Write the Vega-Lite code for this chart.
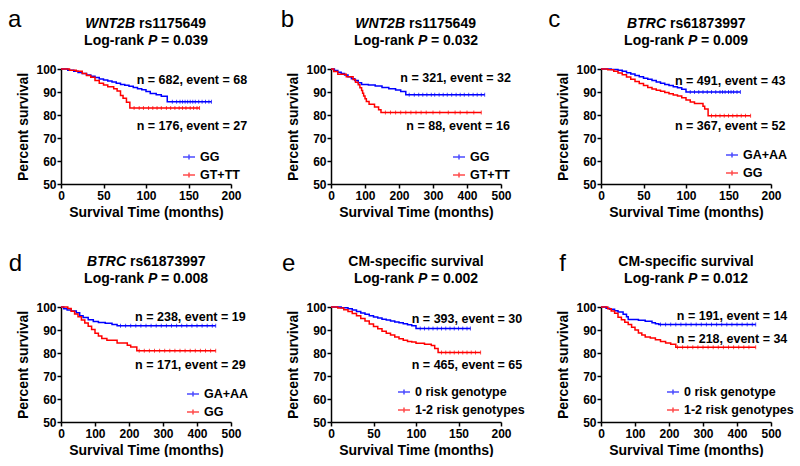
{
"$schema": "https://vega.github.io/schema/vega-lite/v6.json",
"padding": {"left": 7, "top": 7, "right": 0, "bottom": 0},
"datasets": {
"km": [
{"panel":"a","group":"GG","time":0,"survival":100},{"panel":"a","group":"GG","time":8,"survival":99.5},{"panel":"a","group":"GG","time":15,"survival":99},{"panel":"a","group":"GG","time":20,"survival":98.5},{"panel":"a","group":"GG","time":25,"survival":98},{"panel":"a","group":"GG","time":30,"survival":97.4},{"panel":"a","group":"GG","time":35,"survival":96.9},{"panel":"a","group":"GG","time":40,"survival":96.3},{"panel":"a","group":"GG","time":45,"survival":95.7},{"panel":"a","group":"GG","time":50,"survival":95.2},{"panel":"a","group":"GG","time":55,"survival":94.8},{"panel":"a","group":"GG","time":60,"survival":94.3},{"panel":"a","group":"GG","time":65,"survival":93.8},{"panel":"a","group":"GG","time":70,"survival":93.3},{"panel":"a","group":"GG","time":75,"survival":92.9},{"panel":"a","group":"GG","time":80,"survival":92.5},{"panel":"a","group":"GG","time":85,"survival":92},{"panel":"a","group":"GG","time":90,"survival":91.4},{"panel":"a","group":"GG","time":95,"survival":91},{"panel":"a","group":"GG","time":100,"survival":90.2},{"panel":"a","group":"GG","time":105,"survival":89.4},{"panel":"a","group":"GG","time":112,"survival":88.8},{"panel":"a","group":"GG","time":118,"survival":88.2},{"panel":"a","group":"GG","time":125,"survival":85.8},{"panel":"a","group":"GG","time":177,"survival":85.8},
{"panel":"a","group":"GT+TT","time":0,"survival":100},{"panel":"a","group":"GT+TT","time":10,"survival":99.5},{"panel":"a","group":"GT+TT","time":18,"survival":99},{"panel":"a","group":"GT+TT","time":25,"survival":98},{"panel":"a","group":"GT+TT","time":30,"survival":97.2},{"panel":"a","group":"GT+TT","time":35,"survival":96.4},{"panel":"a","group":"GT+TT","time":40,"survival":95},{"panel":"a","group":"GT+TT","time":45,"survival":93.8},{"panel":"a","group":"GT+TT","time":50,"survival":93},{"panel":"a","group":"GT+TT","time":55,"survival":92.3},{"panel":"a","group":"GT+TT","time":62,"survival":91.4},{"panel":"a","group":"GT+TT","time":66,"survival":90.4},{"panel":"a","group":"GT+TT","time":70,"survival":88.5},{"panel":"a","group":"GT+TT","time":73,"survival":87.3},{"panel":"a","group":"GT+TT","time":77,"survival":85.5},{"panel":"a","group":"GT+TT","time":81,"survival":83},{"panel":"a","group":"GT+TT","time":163,"survival":83},
{"panel":"b","group":"GG","time":0,"survival":100},{"panel":"b","group":"GG","time":10,"survival":99.3},{"panel":"b","group":"GG","time":20,"survival":98.6},{"panel":"b","group":"GG","time":30,"survival":98},{"panel":"b","group":"GG","time":40,"survival":97.4},{"panel":"b","group":"GG","time":50,"survival":96.6},{"panel":"b","group":"GG","time":60,"survival":95.8},{"panel":"b","group":"GG","time":70,"survival":95},{"panel":"b","group":"GG","time":80,"survival":94},{"panel":"b","group":"GG","time":90,"survival":93.3},{"panel":"b","group":"GG","time":110,"survival":93},{"panel":"b","group":"GG","time":130,"survival":92.6},{"panel":"b","group":"GG","time":150,"survival":92},{"panel":"b","group":"GG","time":170,"survival":91.4},{"panel":"b","group":"GG","time":190,"survival":90.9},{"panel":"b","group":"GG","time":205,"survival":90.2},{"panel":"b","group":"GG","time":220,"survival":88.8},{"panel":"b","group":"GG","time":452,"survival":88.8},
{"panel":"b","group":"GT+TT","time":0,"survival":100},{"panel":"b","group":"GT+TT","time":8,"survival":98.9},{"panel":"b","group":"GT+TT","time":20,"survival":97.7},{"panel":"b","group":"GT+TT","time":45,"survival":96.6},{"panel":"b","group":"GT+TT","time":65,"survival":95.4},{"panel":"b","group":"GT+TT","time":72,"survival":94.2},{"panel":"b","group":"GT+TT","time":80,"survival":93.1},{"panel":"b","group":"GT+TT","time":85,"survival":91.9},{"panel":"b","group":"GT+TT","time":90,"survival":90.7},{"panel":"b","group":"GT+TT","time":93,"survival":89.5},{"panel":"b","group":"GT+TT","time":96,"survival":88.3},{"panel":"b","group":"GT+TT","time":100,"survival":87.1},{"panel":"b","group":"GT+TT","time":104,"survival":85.9},{"panel":"b","group":"GT+TT","time":112,"survival":84.7},{"panel":"b","group":"GT+TT","time":128,"survival":83.5},{"panel":"b","group":"GT+TT","time":140,"survival":82.3},{"panel":"b","group":"GT+TT","time":147,"survival":81.1},{"panel":"b","group":"GT+TT","time":442,"survival":81.1},
{"panel":"c","group":"GA+AA","time":0,"survival":100},{"panel":"c","group":"GA+AA","time":12,"survival":99.8},{"panel":"c","group":"GA+AA","time":20,"survival":99.5},{"panel":"c","group":"GA+AA","time":25,"survival":99},{"panel":"c","group":"GA+AA","time":30,"survival":98.4},{"panel":"c","group":"GA+AA","time":35,"survival":97.8},{"panel":"c","group":"GA+AA","time":40,"survival":97.2},{"panel":"c","group":"GA+AA","time":45,"survival":96.6},{"panel":"c","group":"GA+AA","time":50,"survival":96},{"panel":"c","group":"GA+AA","time":55,"survival":95.5},{"panel":"c","group":"GA+AA","time":60,"survival":95},{"panel":"c","group":"GA+AA","time":65,"survival":94.4},{"panel":"c","group":"GA+AA","time":70,"survival":93.8},{"panel":"c","group":"GA+AA","time":75,"survival":93.3},{"panel":"c","group":"GA+AA","time":80,"survival":92.8},{"panel":"c","group":"GA+AA","time":85,"survival":92.3},{"panel":"c","group":"GA+AA","time":90,"survival":91.8},{"panel":"c","group":"GA+AA","time":95,"survival":91.2},{"panel":"c","group":"GA+AA","time":100,"survival":90},{"panel":"c","group":"GA+AA","time":164,"survival":90},
{"panel":"c","group":"GG","time":0,"survival":100},{"panel":"c","group":"GG","time":8,"survival":99.7},{"panel":"c","group":"GG","time":15,"survival":99},{"panel":"c","group":"GG","time":20,"survival":98.3},{"panel":"c","group":"GG","time":25,"survival":97.5},{"panel":"c","group":"GG","time":30,"survival":96.5},{"panel":"c","group":"GG","time":35,"survival":95.5},{"panel":"c","group":"GG","time":40,"survival":94.6},{"panel":"c","group":"GG","time":45,"survival":93.7},{"panel":"c","group":"GG","time":50,"survival":92.8},{"panel":"c","group":"GG","time":55,"survival":92},{"panel":"c","group":"GG","time":60,"survival":91.3},{"panel":"c","group":"GG","time":65,"survival":90.8},{"panel":"c","group":"GG","time":70,"survival":90.3},{"panel":"c","group":"GG","time":75,"survival":89.8},{"panel":"c","group":"GG","time":80,"survival":89.2},{"panel":"c","group":"GG","time":85,"survival":88.7},{"panel":"c","group":"GG","time":90,"survival":88.3},{"panel":"c","group":"GG","time":95,"survival":87.5},{"panel":"c","group":"GG","time":100,"survival":86.5},{"panel":"c","group":"GG","time":105,"survival":85.6},{"panel":"c","group":"GG","time":110,"survival":85},{"panel":"c","group":"GG","time":120,"survival":83.8},{"panel":"c","group":"GG","time":122,"survival":82.6},{"panel":"c","group":"GG","time":126,"survival":79.7},{"panel":"c","group":"GG","time":176,"survival":79.7},
{"panel":"d","group":"GA+AA","time":0,"survival":100},{"panel":"d","group":"GA+AA","time":8,"survival":99.2},{"panel":"d","group":"GA+AA","time":18,"survival":98.7},{"panel":"d","group":"GA+AA","time":30,"survival":98.3},{"panel":"d","group":"GA+AA","time":45,"survival":97.5},{"panel":"d","group":"GA+AA","time":55,"survival":96.2},{"panel":"d","group":"GA+AA","time":65,"survival":95.4},{"panel":"d","group":"GA+AA","time":80,"survival":94.5},{"panel":"d","group":"GA+AA","time":95,"survival":93.7},{"panel":"d","group":"GA+AA","time":110,"survival":93.3},{"panel":"d","group":"GA+AA","time":130,"survival":92.9},{"panel":"d","group":"GA+AA","time":150,"survival":92.4},{"panel":"d","group":"GA+AA","time":165,"survival":91.8},{"panel":"d","group":"GA+AA","time":455,"survival":91.8},
{"panel":"d","group":"GG","time":0,"survival":100},{"panel":"d","group":"GG","time":20,"survival":99.4},{"panel":"d","group":"GG","time":30,"survival":98.2},{"panel":"d","group":"GG","time":40,"survival":97},{"panel":"d","group":"GG","time":50,"survival":95.8},{"panel":"d","group":"GG","time":60,"survival":94.4},{"panel":"d","group":"GG","time":70,"survival":93},{"panel":"d","group":"GG","time":80,"survival":91.6},{"panel":"d","group":"GG","time":90,"survival":90.2},{"panel":"d","group":"GG","time":100,"survival":88.6},{"panel":"d","group":"GG","time":110,"survival":87.4},{"panel":"d","group":"GG","time":120,"survival":86.3},{"panel":"d","group":"GG","time":135,"survival":85.5},{"panel":"d","group":"GG","time":165,"survival":84.4},{"panel":"d","group":"GG","time":195,"survival":83.4},{"panel":"d","group":"GG","time":205,"survival":82.6},{"panel":"d","group":"GG","time":223,"survival":81},{"panel":"d","group":"GG","time":455,"survival":81},
{"panel":"e","group":"0 risk genotype","time":0,"survival":100},{"panel":"e","group":"0 risk genotype","time":12,"survival":99.7},{"panel":"e","group":"0 risk genotype","time":20,"survival":99.2},{"panel":"e","group":"0 risk genotype","time":25,"survival":98.7},{"panel":"e","group":"0 risk genotype","time":30,"survival":98},{"panel":"e","group":"0 risk genotype","time":35,"survival":97.4},{"panel":"e","group":"0 risk genotype","time":40,"survival":96.8},{"panel":"e","group":"0 risk genotype","time":45,"survival":96.2},{"panel":"e","group":"0 risk genotype","time":50,"survival":95.7},{"panel":"e","group":"0 risk genotype","time":55,"survival":95.2},{"panel":"e","group":"0 risk genotype","time":60,"survival":94.7},{"panel":"e","group":"0 risk genotype","time":65,"survival":94.3},{"panel":"e","group":"0 risk genotype","time":70,"survival":93.9},{"panel":"e","group":"0 risk genotype","time":75,"survival":93.5},{"panel":"e","group":"0 risk genotype","time":80,"survival":93.1},{"panel":"e","group":"0 risk genotype","time":85,"survival":92.7},{"panel":"e","group":"0 risk genotype","time":90,"survival":92.3},{"panel":"e","group":"0 risk genotype","time":95,"survival":91.8},{"panel":"e","group":"0 risk genotype","time":100,"survival":90.6},{"panel":"e","group":"0 risk genotype","time":164,"survival":90.6},
{"panel":"e","group":"1-2 risk genotypes","time":0,"survival":100},{"panel":"e","group":"1-2 risk genotypes","time":8,"survival":99.6},{"panel":"e","group":"1-2 risk genotypes","time":15,"survival":98.8},{"panel":"e","group":"1-2 risk genotypes","time":20,"survival":98},{"panel":"e","group":"1-2 risk genotypes","time":25,"survival":97.2},{"panel":"e","group":"1-2 risk genotypes","time":30,"survival":96.2},{"panel":"e","group":"1-2 risk genotypes","time":35,"survival":95},{"panel":"e","group":"1-2 risk genotypes","time":40,"survival":93.9},{"panel":"e","group":"1-2 risk genotypes","time":45,"survival":92.6},{"panel":"e","group":"1-2 risk genotypes","time":50,"survival":91.5},{"panel":"e","group":"1-2 risk genotypes","time":55,"survival":90.5},{"panel":"e","group":"1-2 risk genotypes","time":60,"survival":89.5},{"panel":"e","group":"1-2 risk genotypes","time":65,"survival":88.6},{"panel":"e","group":"1-2 risk genotypes","time":70,"survival":87.8},{"panel":"e","group":"1-2 risk genotypes","time":75,"survival":87},{"panel":"e","group":"1-2 risk genotypes","time":80,"survival":86.2},{"panel":"e","group":"1-2 risk genotypes","time":85,"survival":85.5},{"panel":"e","group":"1-2 risk genotypes","time":90,"survival":85},{"panel":"e","group":"1-2 risk genotypes","time":95,"survival":84.8},{"panel":"e","group":"1-2 risk genotypes","time":100,"survival":84.2},{"panel":"e","group":"1-2 risk genotypes","time":110,"survival":83.8},{"panel":"e","group":"1-2 risk genotypes","time":118,"survival":83.3},{"panel":"e","group":"1-2 risk genotypes","time":122,"survival":82},{"panel":"e","group":"1-2 risk genotypes","time":126,"survival":80.2},{"panel":"e","group":"1-2 risk genotypes","time":176,"survival":80.2},
{"panel":"f","group":"0 risk genotype","time":0,"survival":100},{"panel":"f","group":"0 risk genotype","time":15,"survival":99.5},{"panel":"f","group":"0 risk genotype","time":25,"survival":99},{"panel":"f","group":"0 risk genotype","time":40,"survival":98.4},{"panel":"f","group":"0 risk genotype","time":50,"survival":97.8},{"panel":"f","group":"0 risk genotype","time":65,"survival":96.8},{"panel":"f","group":"0 risk genotype","time":75,"survival":95.8},{"panel":"f","group":"0 risk genotype","time":80,"survival":94.6},{"panel":"f","group":"0 risk genotype","time":110,"survival":94.2},{"panel":"f","group":"0 risk genotype","time":130,"survival":93.8},{"panel":"f","group":"0 risk genotype","time":150,"survival":93.2},{"panel":"f","group":"0 risk genotype","time":160,"survival":92.7},{"panel":"f","group":"0 risk genotype","time":170,"survival":92.4},{"panel":"f","group":"0 risk genotype","time":455,"survival":92.4},
{"panel":"f","group":"1-2 risk genotypes","time":0,"survival":100},{"panel":"f","group":"1-2 risk genotypes","time":20,"survival":99.2},{"panel":"f","group":"1-2 risk genotypes","time":30,"survival":98.3},{"panel":"f","group":"1-2 risk genotypes","time":40,"survival":97.3},{"panel":"f","group":"1-2 risk genotypes","time":50,"survival":95.5},{"panel":"f","group":"1-2 risk genotypes","time":60,"survival":94.5},{"panel":"f","group":"1-2 risk genotypes","time":70,"survival":93.4},{"panel":"f","group":"1-2 risk genotypes","time":80,"survival":92.4},{"panel":"f","group":"1-2 risk genotypes","time":90,"survival":91.2},{"panel":"f","group":"1-2 risk genotypes","time":100,"survival":90},{"panel":"f","group":"1-2 risk genotypes","time":110,"survival":88.7},{"panel":"f","group":"1-2 risk genotypes","time":120,"survival":87.8},{"panel":"f","group":"1-2 risk genotypes","time":130,"survival":87},{"panel":"f","group":"1-2 risk genotypes","time":145,"survival":86.5},{"panel":"f","group":"1-2 risk genotypes","time":160,"survival":85.8},{"panel":"f","group":"1-2 risk genotypes","time":175,"survival":85},{"panel":"f","group":"1-2 risk genotypes","time":190,"survival":84.4},{"panel":"f","group":"1-2 risk genotypes","time":205,"survival":83.8},{"panel":"f","group":"1-2 risk genotypes","time":220,"survival":82.5},{"panel":"f","group":"1-2 risk genotypes","time":455,"survival":82.5}
],
"cens": [
{"panel":"a","group":"GG","time":131,"survival":85.8},{"panel":"a","group":"GG","time":136,"survival":85.8},{"panel":"a","group":"GG","time":140,"survival":85.8},{"panel":"a","group":"GG","time":143,"survival":85.8},{"panel":"a","group":"GG","time":146,"survival":85.8},{"panel":"a","group":"GG","time":149,"survival":85.8},{"panel":"a","group":"GG","time":152,"survival":85.8},{"panel":"a","group":"GG","time":155,"survival":85.8},{"panel":"a","group":"GG","time":158,"survival":85.8},{"panel":"a","group":"GG","time":162,"survival":85.8},{"panel":"a","group":"GG","time":166,"survival":85.8},{"panel":"a","group":"GG","time":170,"survival":85.8},{"panel":"a","group":"GG","time":174,"survival":85.8},{"panel":"a","group":"GG","time":177,"survival":85.8},
{"panel":"a","group":"GT+TT","time":86,"survival":83},{"panel":"a","group":"GT+TT","time":92,"survival":83},{"panel":"a","group":"GT+TT","time":97,"survival":83},{"panel":"a","group":"GT+TT","time":103,"survival":83},{"panel":"a","group":"GT+TT","time":108,"survival":83},{"panel":"a","group":"GT+TT","time":113,"survival":83},{"panel":"a","group":"GT+TT","time":118,"survival":83},{"panel":"a","group":"GT+TT","time":124,"survival":83},{"panel":"a","group":"GT+TT","time":129,"survival":83},{"panel":"a","group":"GT+TT","time":134,"survival":83},{"panel":"a","group":"GT+TT","time":139,"survival":83},{"panel":"a","group":"GT+TT","time":143,"survival":83},{"panel":"a","group":"GT+TT","time":147,"survival":83},{"panel":"a","group":"GT+TT","time":152,"survival":83},{"panel":"a","group":"GT+TT","time":156,"survival":83},{"panel":"a","group":"GT+TT","time":160,"survival":83},{"panel":"a","group":"GT+TT","time":163,"survival":83},
{"panel":"b","group":"GG","time":230,"survival":88.8},{"panel":"b","group":"GG","time":245,"survival":88.8},{"panel":"b","group":"GG","time":258,"survival":88.8},{"panel":"b","group":"GG","time":270,"survival":88.8},{"panel":"b","group":"GG","time":282,"survival":88.8},{"panel":"b","group":"GG","time":295,"survival":88.8},{"panel":"b","group":"GG","time":305,"survival":88.8},{"panel":"b","group":"GG","time":318,"survival":88.8},{"panel":"b","group":"GG","time":330,"survival":88.8},{"panel":"b","group":"GG","time":342,"survival":88.8},{"panel":"b","group":"GG","time":355,"survival":88.8},{"panel":"b","group":"GG","time":368,"survival":88.8},{"panel":"b","group":"GG","time":380,"survival":88.8},{"panel":"b","group":"GG","time":392,"survival":88.8},{"panel":"b","group":"GG","time":405,"survival":88.8},{"panel":"b","group":"GG","time":418,"survival":88.8},{"panel":"b","group":"GG","time":430,"survival":88.8},{"panel":"b","group":"GG","time":442,"survival":88.8},{"panel":"b","group":"GG","time":452,"survival":88.8},
{"panel":"b","group":"GT+TT","time":160,"survival":81.1},{"panel":"b","group":"GT+TT","time":175,"survival":81.1},{"panel":"b","group":"GT+TT","time":190,"survival":81.1},{"panel":"b","group":"GT+TT","time":205,"survival":81.1},{"panel":"b","group":"GT+TT","time":220,"survival":81.1},{"panel":"b","group":"GT+TT","time":235,"survival":81.1},{"panel":"b","group":"GT+TT","time":250,"survival":81.1},{"panel":"b","group":"GT+TT","time":265,"survival":81.1},{"panel":"b","group":"GT+TT","time":280,"survival":81.1},{"panel":"b","group":"GT+TT","time":300,"survival":81.1},{"panel":"b","group":"GT+TT","time":320,"survival":81.1},{"panel":"b","group":"GT+TT","time":345,"survival":81.1},{"panel":"b","group":"GT+TT","time":365,"survival":81.1},{"panel":"b","group":"GT+TT","time":380,"survival":81.1},{"panel":"b","group":"GT+TT","time":400,"survival":81.1},{"panel":"b","group":"GT+TT","time":420,"survival":81.1},{"panel":"b","group":"GT+TT","time":442,"survival":81.1},
{"panel":"c","group":"GA+AA","time":105,"survival":90},{"panel":"c","group":"GA+AA","time":110,"survival":90},{"panel":"c","group":"GA+AA","time":115,"survival":90},{"panel":"c","group":"GA+AA","time":120,"survival":90},{"panel":"c","group":"GA+AA","time":125,"survival":90},{"panel":"c","group":"GA+AA","time":130,"survival":90},{"panel":"c","group":"GA+AA","time":135,"survival":90},{"panel":"c","group":"GA+AA","time":140,"survival":90},{"panel":"c","group":"GA+AA","time":143,"survival":90},{"panel":"c","group":"GA+AA","time":146,"survival":90},{"panel":"c","group":"GA+AA","time":150,"survival":90},{"panel":"c","group":"GA+AA","time":153,"survival":90},{"panel":"c","group":"GA+AA","time":156,"survival":90},{"panel":"c","group":"GA+AA","time":160,"survival":90},{"panel":"c","group":"GA+AA","time":164,"survival":90},
{"panel":"c","group":"GG","time":130,"survival":79.7},{"panel":"c","group":"GG","time":135,"survival":79.7},{"panel":"c","group":"GG","time":140,"survival":79.7},{"panel":"c","group":"GG","time":145,"survival":79.7},{"panel":"c","group":"GG","time":150,"survival":79.7},{"panel":"c","group":"GG","time":155,"survival":79.7},{"panel":"c","group":"GG","time":160,"survival":79.7},{"panel":"c","group":"GG","time":165,"survival":79.7},{"panel":"c","group":"GG","time":170,"survival":79.7},{"panel":"c","group":"GG","time":176,"survival":79.7},
{"panel":"d","group":"GA+AA","time":175,"survival":91.8},{"panel":"d","group":"GA+AA","time":190,"survival":91.8},{"panel":"d","group":"GA+AA","time":205,"survival":91.8},{"panel":"d","group":"GA+AA","time":220,"survival":91.8},{"panel":"d","group":"GA+AA","time":235,"survival":91.8},{"panel":"d","group":"GA+AA","time":250,"survival":91.8},{"panel":"d","group":"GA+AA","time":265,"survival":91.8},{"panel":"d","group":"GA+AA","time":280,"survival":91.8},{"panel":"d","group":"GA+AA","time":295,"survival":91.8},{"panel":"d","group":"GA+AA","time":310,"survival":91.8},{"panel":"d","group":"GA+AA","time":325,"survival":91.8},{"panel":"d","group":"GA+AA","time":340,"survival":91.8},{"panel":"d","group":"GA+AA","time":355,"survival":91.8},{"panel":"d","group":"GA+AA","time":370,"survival":91.8},{"panel":"d","group":"GA+AA","time":385,"survival":91.8},{"panel":"d","group":"GA+AA","time":400,"survival":91.8},{"panel":"d","group":"GA+AA","time":415,"survival":91.8},{"panel":"d","group":"GA+AA","time":430,"survival":91.8},{"panel":"d","group":"GA+AA","time":445,"survival":91.8},{"panel":"d","group":"GA+AA","time":455,"survival":91.8},
{"panel":"d","group":"GG","time":230,"survival":81},{"panel":"d","group":"GG","time":245,"survival":81},{"panel":"d","group":"GG","time":260,"survival":81},{"panel":"d","group":"GG","time":275,"survival":81},{"panel":"d","group":"GG","time":290,"survival":81},{"panel":"d","group":"GG","time":305,"survival":81},{"panel":"d","group":"GG","time":320,"survival":81},{"panel":"d","group":"GG","time":335,"survival":81},{"panel":"d","group":"GG","time":350,"survival":81},{"panel":"d","group":"GG","time":365,"survival":81},{"panel":"d","group":"GG","time":380,"survival":81},{"panel":"d","group":"GG","time":395,"survival":81},{"panel":"d","group":"GG","time":410,"survival":81},{"panel":"d","group":"GG","time":425,"survival":81},{"panel":"d","group":"GG","time":440,"survival":81},{"panel":"d","group":"GG","time":455,"survival":81},
{"panel":"e","group":"0 risk genotype","time":105,"survival":90.6},{"panel":"e","group":"0 risk genotype","time":110,"survival":90.6},{"panel":"e","group":"0 risk genotype","time":115,"survival":90.6},{"panel":"e","group":"0 risk genotype","time":120,"survival":90.6},{"panel":"e","group":"0 risk genotype","time":125,"survival":90.6},{"panel":"e","group":"0 risk genotype","time":130,"survival":90.6},{"panel":"e","group":"0 risk genotype","time":135,"survival":90.6},{"panel":"e","group":"0 risk genotype","time":140,"survival":90.6},{"panel":"e","group":"0 risk genotype","time":145,"survival":90.6},{"panel":"e","group":"0 risk genotype","time":150,"survival":90.6},{"panel":"e","group":"0 risk genotype","time":155,"survival":90.6},{"panel":"e","group":"0 risk genotype","time":160,"survival":90.6},{"panel":"e","group":"0 risk genotype","time":164,"survival":90.6},
{"panel":"e","group":"1-2 risk genotypes","time":130,"survival":80.2},{"panel":"e","group":"1-2 risk genotypes","time":135,"survival":80.2},{"panel":"e","group":"1-2 risk genotypes","time":140,"survival":80.2},{"panel":"e","group":"1-2 risk genotypes","time":145,"survival":80.2},{"panel":"e","group":"1-2 risk genotypes","time":150,"survival":80.2},{"panel":"e","group":"1-2 risk genotypes","time":155,"survival":80.2},{"panel":"e","group":"1-2 risk genotypes","time":160,"survival":80.2},{"panel":"e","group":"1-2 risk genotypes","time":165,"survival":80.2},{"panel":"e","group":"1-2 risk genotypes","time":170,"survival":80.2},{"panel":"e","group":"1-2 risk genotypes","time":176,"survival":80.2},
{"panel":"f","group":"0 risk genotype","time":175,"survival":92.4},{"panel":"f","group":"0 risk genotype","time":190,"survival":92.4},{"panel":"f","group":"0 risk genotype","time":205,"survival":92.4},{"panel":"f","group":"0 risk genotype","time":220,"survival":92.4},{"panel":"f","group":"0 risk genotype","time":235,"survival":92.4},{"panel":"f","group":"0 risk genotype","time":250,"survival":92.4},{"panel":"f","group":"0 risk genotype","time":265,"survival":92.4},{"panel":"f","group":"0 risk genotype","time":280,"survival":92.4},{"panel":"f","group":"0 risk genotype","time":295,"survival":92.4},{"panel":"f","group":"0 risk genotype","time":310,"survival":92.4},{"panel":"f","group":"0 risk genotype","time":325,"survival":92.4},{"panel":"f","group":"0 risk genotype","time":340,"survival":92.4},{"panel":"f","group":"0 risk genotype","time":355,"survival":92.4},{"panel":"f","group":"0 risk genotype","time":370,"survival":92.4},{"panel":"f","group":"0 risk genotype","time":385,"survival":92.4},{"panel":"f","group":"0 risk genotype","time":400,"survival":92.4},{"panel":"f","group":"0 risk genotype","time":415,"survival":92.4},{"panel":"f","group":"0 risk genotype","time":430,"survival":92.4},{"panel":"f","group":"0 risk genotype","time":445,"survival":92.4},{"panel":"f","group":"0 risk genotype","time":455,"survival":92.4},
{"panel":"f","group":"1-2 risk genotypes","time":225,"survival":82.5},{"panel":"f","group":"1-2 risk genotypes","time":240,"survival":82.5},{"panel":"f","group":"1-2 risk genotypes","time":255,"survival":82.5},{"panel":"f","group":"1-2 risk genotypes","time":270,"survival":82.5},{"panel":"f","group":"1-2 risk genotypes","time":285,"survival":82.5},{"panel":"f","group":"1-2 risk genotypes","time":300,"survival":82.5},{"panel":"f","group":"1-2 risk genotypes","time":315,"survival":82.5},{"panel":"f","group":"1-2 risk genotypes","time":330,"survival":82.5},{"panel":"f","group":"1-2 risk genotypes","time":345,"survival":82.5},{"panel":"f","group":"1-2 risk genotypes","time":360,"survival":82.5},{"panel":"f","group":"1-2 risk genotypes","time":375,"survival":82.5},{"panel":"f","group":"1-2 risk genotypes","time":390,"survival":82.5},{"panel":"f","group":"1-2 risk genotypes","time":405,"survival":82.5},{"panel":"f","group":"1-2 risk genotypes","time":420,"survival":82.5},{"panel":"f","group":"1-2 risk genotypes","time":435,"survival":82.5},{"panel":"f","group":"1-2 risk genotypes","time":455,"survival":82.5}
]
},
"columns": 3,
"spacing": {"row": 123, "column": 100},
"bounds": "flush",
"resolve": {"scale": {"x": "independent", "y": "independent", "color": "independent"}, "legend": {"color": "independent"}},
"concat": [
{"width":170,"height":115,
"layer":[
{"data":{"name":"km"},"transform":[{"filter":"datum.panel === 'a'"}],"mark":{"type":"line","interpolate":"step-after","strokeWidth":1.5},
"encoding":{"x":{"field":"time","type":"quantitative","scale":{"domain":[0,200],"nice":false},"axis":{"values":[0,50,100,150,200],"tickCount":20,"title":"Survival Time (months)"}},
"y":{"field":"survival","type":"quantitative","scale":{"domain":[50,100],"nice":false,"zero":false},"axis":{"values":[50,60,70,80,90,100],"tickCount":20,"title":"Percent survival"}},
"color":{"field":"group","type":"nominal","scale":{"domain":["GG","GT+TT"],"range":["#0000ff","#ff0000"]},"legend":{"title":null,"orient":"none","legendX":121,"legendY":81}}}},
{"data":{"name":"cens"},"transform":[{"filter":"datum.panel === 'a'"}],"mark":{"type":"tick","orient":"vertical","size":4,"thickness":1},
"encoding":{"x":{"field":"time","type":"quantitative"},"y":{"field":"survival","type":"quantitative"},"color":{"field":"group","type":"nominal"}}},
{"data":{"values":[{"label":"n = 682, event = 68"}]},"mark":{"type":"text","align":"right","baseline":"middle"},"encoding":{"text":{"field":"label"},"x":{"datum":219,"type":"quantitative"},"y":{"datum":95.3,"type":"quantitative"}}},
{"data":{"values":[{"label":"n = 176, event = 27"}]},"mark":{"type":"text","align":"right","baseline":"middle"},"encoding":{"text":{"field":"label"},"x":{"datum":219,"type":"quantitative"},"y":{"datum":75.3,"type":"quantitative"}}},
{"data":{"values":[{"label":"WNT2B"}]},"mark":{"type":"text","align":"right","baseline":"middle","fontSize":14,"fontStyle":"italic","dx":-11},"encoding":{"text":{"field":"label"},"x":{"datum":100,"type":"quantitative"},"y":{"datum":119.7,"type":"quantitative"}}},
{"data":{"values":[{"label":"rs1175649"}]},"mark":{"type":"text","align":"left","baseline":"middle","fontSize":14,"dx":-7},"encoding":{"text":{"field":"label"},"x":{"datum":100,"type":"quantitative"},"y":{"datum":119.7,"type":"quantitative"}}},
{"data":{"values":[{"label":"Log-rank"}]},"mark":{"type":"text","align":"right","baseline":"middle","fontSize":14,"dx":-2},"encoding":{"text":{"field":"label"},"x":{"datum":100,"type":"quantitative"},"y":{"datum":112.3,"type":"quantitative"}}},
{"data":{"values":[{"label":"P"}]},"mark":{"type":"text","align":"left","baseline":"middle","fontSize":14,"fontStyle":"italic","dx":2},"encoding":{"text":{"field":"label"},"x":{"datum":100,"type":"quantitative"},"y":{"datum":112.3,"type":"quantitative"}}},
{"data":{"values":[{"label":"= 0.039"}]},"mark":{"type":"text","align":"left","baseline":"middle","fontSize":14,"dx":15},"encoding":{"text":{"field":"label"},"x":{"datum":100,"type":"quantitative"},"y":{"datum":112.3,"type":"quantitative"}}},
{"data":{"values":[{"label":"a"}]},"mark":{"type":"text","align":"left","baseline":"alphabetic","fontSize":24,"fontWeight":"normal"},"encoding":{"text":{"field":"label"},"x":{"datum":-62.4,"type":"quantitative"},"y":{"datum":118.3,"type":"quantitative"}}}
]},
{"width":170,"height":115,
"layer":[
{"data":{"name":"km"},"transform":[{"filter":"datum.panel === 'b'"}],"mark":{"type":"line","interpolate":"step-after","strokeWidth":1.5},
"encoding":{"x":{"field":"time","type":"quantitative","scale":{"domain":[0,500],"nice":false},"axis":{"values":[0,100,200,300,400,500],"tickCount":20,"title":"Survival Time (months)"}},
"y":{"field":"survival","type":"quantitative","scale":{"domain":[50,100],"nice":false,"zero":false},"axis":{"values":[50,60,70,80,90,100],"tickCount":20,"title":"Percent survival"}},
"color":{"field":"group","type":"nominal","scale":{"domain":["GG","GT+TT"],"range":["#0000ff","#ff0000"]},"legend":{"title":null,"orient":"none","legendX":121,"legendY":81}}}},
{"data":{"name":"cens"},"transform":[{"filter":"datum.panel === 'b'"}],"mark":{"type":"tick","orient":"vertical","size":4,"thickness":1},
"encoding":{"x":{"field":"time","type":"quantitative"},"y":{"field":"survival","type":"quantitative"},"color":{"field":"group","type":"nominal"}}},
{"data":{"values":[{"label":"n = 321, event = 32"}]},"mark":{"type":"text","align":"right","baseline":"middle"},"encoding":{"text":{"field":"label"},"x":{"datum":529,"type":"quantitative"},"y":{"datum":96.1,"type":"quantitative"}}},
{"data":{"values":[{"label":"n = 88, event = 16"}]},"mark":{"type":"text","align":"right","baseline":"middle"},"encoding":{"text":{"field":"label"},"x":{"datum":526,"type":"quantitative"},"y":{"datum":75.3,"type":"quantitative"}}},
{"data":{"values":[{"label":"WNT2B"}]},"mark":{"type":"text","align":"right","baseline":"middle","fontSize":14,"fontStyle":"italic","dx":-11},"encoding":{"text":{"field":"label"},"x":{"datum":250,"type":"quantitative"},"y":{"datum":119.7,"type":"quantitative"}}},
{"data":{"values":[{"label":"rs1175649"}]},"mark":{"type":"text","align":"left","baseline":"middle","fontSize":14,"dx":-7},"encoding":{"text":{"field":"label"},"x":{"datum":250,"type":"quantitative"},"y":{"datum":119.7,"type":"quantitative"}}},
{"data":{"values":[{"label":"Log-rank"}]},"mark":{"type":"text","align":"right","baseline":"middle","fontSize":14,"dx":-2},"encoding":{"text":{"field":"label"},"x":{"datum":250,"type":"quantitative"},"y":{"datum":112.3,"type":"quantitative"}}},
{"data":{"values":[{"label":"P"}]},"mark":{"type":"text","align":"left","baseline":"middle","fontSize":14,"fontStyle":"italic","dx":2},"encoding":{"text":{"field":"label"},"x":{"datum":250,"type":"quantitative"},"y":{"datum":112.3,"type":"quantitative"}}},
{"data":{"values":[{"label":"= 0.032"}]},"mark":{"type":"text","align":"left","baseline":"middle","fontSize":14,"dx":15},"encoding":{"text":{"field":"label"},"x":{"datum":250,"type":"quantitative"},"y":{"datum":112.3,"type":"quantitative"}}},
{"data":{"values":[{"label":"b"}]},"mark":{"type":"text","align":"left","baseline":"alphabetic","fontSize":24,"fontWeight":"normal"},"encoding":{"text":{"field":"label"},"x":{"datum":-148,"type":"quantitative"},"y":{"datum":118.3,"type":"quantitative"}}}
]},
{"width":170,"height":115,
"layer":[
{"data":{"name":"km"},"transform":[{"filter":"datum.panel === 'c'"}],"mark":{"type":"line","interpolate":"step-after","strokeWidth":1.5},
"encoding":{"x":{"field":"time","type":"quantitative","scale":{"domain":[0,200],"nice":false},"axis":{"values":[0,50,100,150,200],"tickCount":20,"title":"Survival Time (months)"}},
"y":{"field":"survival","type":"quantitative","scale":{"domain":[50,100],"nice":false,"zero":false},"axis":{"values":[50,60,70,80,90,100],"tickCount":20,"title":"Percent survival"}},
"color":{"field":"group","type":"nominal","scale":{"domain":["GA+AA","GG"],"range":["#0000ff","#ff0000"]},"legend":{"title":null,"orient":"none","legendX":124,"legendY":79}}}},
{"data":{"name":"cens"},"transform":[{"filter":"datum.panel === 'c'"}],"mark":{"type":"tick","orient":"vertical","size":4,"thickness":1},
"encoding":{"x":{"field":"time","type":"quantitative"},"y":{"field":"survival","type":"quantitative"},"color":{"field":"group","type":"nominal"}}},
{"data":{"values":[{"label":"n = 491, event = 43"}]},"mark":{"type":"text","align":"right","baseline":"middle"},"encoding":{"text":{"field":"label"},"x":{"datum":217,"type":"quantitative"},"y":{"datum":94.9,"type":"quantitative"}}},
{"data":{"values":[{"label":"n = 367, event = 52"}]},"mark":{"type":"text","align":"right","baseline":"middle"},"encoding":{"text":{"field":"label"},"x":{"datum":217,"type":"quantitative"},"y":{"datum":75.3,"type":"quantitative"}}},
{"data":{"values":[{"label":"BTRC"}]},"mark":{"type":"text","align":"right","baseline":"middle","fontSize":14,"fontStyle":"italic","dx":-20},"encoding":{"text":{"field":"label"},"x":{"datum":100,"type":"quantitative"},"y":{"datum":119.7,"type":"quantitative"}}},
{"data":{"values":[{"label":"rs61873997"}]},"mark":{"type":"text","align":"left","baseline":"middle","fontSize":14,"dx":-16},"encoding":{"text":{"field":"label"},"x":{"datum":100,"type":"quantitative"},"y":{"datum":119.7,"type":"quantitative"}}},
{"data":{"values":[{"label":"Log-rank"}]},"mark":{"type":"text","align":"right","baseline":"middle","fontSize":14,"dx":-2},"encoding":{"text":{"field":"label"},"x":{"datum":100,"type":"quantitative"},"y":{"datum":112.3,"type":"quantitative"}}},
{"data":{"values":[{"label":"P"}]},"mark":{"type":"text","align":"left","baseline":"middle","fontSize":14,"fontStyle":"italic","dx":2},"encoding":{"text":{"field":"label"},"x":{"datum":100,"type":"quantitative"},"y":{"datum":112.3,"type":"quantitative"}}},
{"data":{"values":[{"label":"= 0.009"}]},"mark":{"type":"text","align":"left","baseline":"middle","fontSize":14,"dx":15},"encoding":{"text":{"field":"label"},"x":{"datum":100,"type":"quantitative"},"y":{"datum":112.3,"type":"quantitative"}}},
{"data":{"values":[{"label":"c"}]},"mark":{"type":"text","align":"left","baseline":"alphabetic","fontSize":24,"fontWeight":"normal"},"encoding":{"text":{"field":"label"},"x":{"datum":-62,"type":"quantitative"},"y":{"datum":118.3,"type":"quantitative"}}}
]},
{"width":170,"height":115,
"layer":[
{"data":{"name":"km"},"transform":[{"filter":"datum.panel === 'd'"}],"mark":{"type":"line","interpolate":"step-after","strokeWidth":1.5},
"encoding":{"x":{"field":"time","type":"quantitative","scale":{"domain":[0,500],"nice":false},"axis":{"values":[0,100,200,300,400,500],"tickCount":20,"title":"Survival Time (months)"}},
"y":{"field":"survival","type":"quantitative","scale":{"domain":[50,100],"nice":false,"zero":false},"axis":{"values":[50,60,70,80,90,100],"tickCount":20,"title":"Percent survival"}},
"color":{"field":"group","type":"nominal","scale":{"domain":["GA+AA","GG"],"range":["#0000ff","#ff0000"]},"legend":{"title":null,"orient":"none","legendX":125,"legendY":80}}}},
{"data":{"name":"cens"},"transform":[{"filter":"datum.panel === 'd'"}],"mark":{"type":"tick","orient":"vertical","size":4,"thickness":1},
"encoding":{"x":{"field":"time","type":"quantitative"},"y":{"field":"survival","type":"quantitative"},"color":{"field":"group","type":"nominal"}}},
{"data":{"values":[{"label":"n = 238, event = 19"}]},"mark":{"type":"text","align":"right","baseline":"middle"},"encoding":{"text":{"field":"label"},"x":{"datum":543,"type":"quantitative"},"y":{"datum":95.6,"type":"quantitative"}}},
{"data":{"values":[{"label":"n = 171, event = 29"}]},"mark":{"type":"text","align":"right","baseline":"middle"},"encoding":{"text":{"field":"label"},"x":{"datum":543,"type":"quantitative"},"y":{"datum":74.9,"type":"quantitative"}}},
{"data":{"values":[{"label":"BTRC"}]},"mark":{"type":"text","align":"right","baseline":"middle","fontSize":14,"fontStyle":"italic","dx":-20},"encoding":{"text":{"field":"label"},"x":{"datum":250,"type":"quantitative"},"y":{"datum":119.4,"type":"quantitative"}}},
{"data":{"values":[{"label":"rs61873997"}]},"mark":{"type":"text","align":"left","baseline":"middle","fontSize":14,"dx":-16},"encoding":{"text":{"field":"label"},"x":{"datum":250,"type":"quantitative"},"y":{"datum":119.4,"type":"quantitative"}}},
{"data":{"values":[{"label":"Log-rank"}]},"mark":{"type":"text","align":"right","baseline":"middle","fontSize":14,"dx":-2},"encoding":{"text":{"field":"label"},"x":{"datum":250,"type":"quantitative"},"y":{"datum":112.1,"type":"quantitative"}}},
{"data":{"values":[{"label":"P"}]},"mark":{"type":"text","align":"left","baseline":"middle","fontSize":14,"fontStyle":"italic","dx":2},"encoding":{"text":{"field":"label"},"x":{"datum":250,"type":"quantitative"},"y":{"datum":112.1,"type":"quantitative"}}},
{"data":{"values":[{"label":"= 0.008"}]},"mark":{"type":"text","align":"left","baseline":"middle","fontSize":14,"dx":15},"encoding":{"text":{"field":"label"},"x":{"datum":250,"type":"quantitative"},"y":{"datum":112.1,"type":"quantitative"}}},
{"data":{"values":[{"label":"d"}]},"mark":{"type":"text","align":"left","baseline":"alphabetic","fontSize":24,"fontWeight":"normal"},"encoding":{"text":{"field":"label"},"x":{"datum":-154,"type":"quantitative"},"y":{"datum":115.8,"type":"quantitative"}}}
]},
{"width":170,"height":115,
"layer":[
{"data":{"name":"km"},"transform":[{"filter":"datum.panel === 'e'"}],"mark":{"type":"line","interpolate":"step-after","strokeWidth":1.5},
"encoding":{"x":{"field":"time","type":"quantitative","scale":{"domain":[0,200],"nice":false},"axis":{"values":[0,50,100,150,200],"tickCount":20,"title":"Survival Time (months)"}},
"y":{"field":"survival","type":"quantitative","scale":{"domain":[50,100],"nice":false,"zero":false},"axis":{"values":[50,60,70,80,90,100],"tickCount":20,"title":"Percent survival"}},
"color":{"field":"group","type":"nominal","scale":{"domain":["0 risk genotype","1-2 risk genotypes"],"range":["#0000ff","#ff0000"]},"legend":{"title":null,"orient":"none","legendX":66,"legendY":78}}}},
{"data":{"name":"cens"},"transform":[{"filter":"datum.panel === 'e'"}],"mark":{"type":"tick","orient":"vertical","size":4,"thickness":1},
"encoding":{"x":{"field":"time","type":"quantitative"},"y":{"field":"survival","type":"quantitative"},"color":{"field":"group","type":"nominal"}}},
{"data":{"values":[{"label":"n = 393, event = 30"}]},"mark":{"type":"text","align":"right","baseline":"middle"},"encoding":{"text":{"field":"label"},"x":{"datum":225,"type":"quantitative"},"y":{"datum":94.6,"type":"quantitative"}}},
{"data":{"values":[{"label":"n = 465, event = 65"}]},"mark":{"type":"text","align":"right","baseline":"middle"},"encoding":{"text":{"field":"label"},"x":{"datum":225,"type":"quantitative"},"y":{"datum":74.9,"type":"quantitative"}}},
{"data":{"values":[{"label":"CM-specific survival"}]},"mark":{"type":"text","align":"center","baseline":"middle","fontSize":14},"encoding":{"text":{"field":"label"},"x":{"datum":100,"type":"quantitative"},"y":{"datum":119.4,"type":"quantitative"}}},
{"data":{"values":[{"label":"Log-rank"}]},"mark":{"type":"text","align":"right","baseline":"middle","fontSize":14,"dx":-2},"encoding":{"text":{"field":"label"},"x":{"datum":100,"type":"quantitative"},"y":{"datum":112.1,"type":"quantitative"}}},
{"data":{"values":[{"label":"P"}]},"mark":{"type":"text","align":"left","baseline":"middle","fontSize":14,"fontStyle":"italic","dx":2},"encoding":{"text":{"field":"label"},"x":{"datum":100,"type":"quantitative"},"y":{"datum":112.1,"type":"quantitative"}}},
{"data":{"values":[{"label":"= 0.002"}]},"mark":{"type":"text","align":"left","baseline":"middle","fontSize":14,"dx":15},"encoding":{"text":{"field":"label"},"x":{"datum":100,"type":"quantitative"},"y":{"datum":112.1,"type":"quantitative"}}},
{"data":{"values":[{"label":"e"}]},"mark":{"type":"text","align":"left","baseline":"alphabetic","fontSize":24,"fontWeight":"normal"},"encoding":{"text":{"field":"label"},"x":{"datum":-57.7,"type":"quantitative"},"y":{"datum":115.8,"type":"quantitative"}}}
]},
{"width":170,"height":115,
"layer":[
{"data":{"name":"km"},"transform":[{"filter":"datum.panel === 'f'"}],"mark":{"type":"line","interpolate":"step-after","strokeWidth":1.5},
"encoding":{"x":{"field":"time","type":"quantitative","scale":{"domain":[0,500],"nice":false},"axis":{"values":[0,100,200,300,400,500],"tickCount":20,"title":"Survival Time (months)"}},
"y":{"field":"survival","type":"quantitative","scale":{"domain":[50,100],"nice":false,"zero":false},"axis":{"values":[50,60,70,80,90,100],"tickCount":20,"title":"Percent survival"}},
"color":{"field":"group","type":"nominal","scale":{"domain":["0 risk genotype","1-2 risk genotypes"],"range":["#0000ff","#ff0000"]},"legend":{"title":null,"orient":"none","legendX":65,"legendY":78}}}},
{"data":{"name":"cens"},"transform":[{"filter":"datum.panel === 'f'"}],"mark":{"type":"tick","orient":"vertical","size":4,"thickness":1},
"encoding":{"x":{"field":"time","type":"quantitative"},"y":{"field":"survival","type":"quantitative"},"color":{"field":"group","type":"nominal"}}},
{"data":{"values":[{"label":"n = 191, event = 14"}]},"mark":{"type":"text","align":"right","baseline":"middle"},"encoding":{"text":{"field":"label"},"x":{"datum":548,"type":"quantitative"},"y":{"datum":96.1,"type":"quantitative"}}},
{"data":{"values":[{"label":"n = 218, event = 34"}]},"mark":{"type":"text","align":"right","baseline":"middle"},"encoding":{"text":{"field":"label"},"x":{"datum":548,"type":"quantitative"},"y":{"datum":86.3,"type":"quantitative"}}},
{"data":{"values":[{"label":"CM-specific survival"}]},"mark":{"type":"text","align":"center","baseline":"middle","fontSize":14},"encoding":{"text":{"field":"label"},"x":{"datum":250,"type":"quantitative"},"y":{"datum":119.4,"type":"quantitative"}}},
{"data":{"values":[{"label":"Log-rank"}]},"mark":{"type":"text","align":"right","baseline":"middle","fontSize":14,"dx":-2},"encoding":{"text":{"field":"label"},"x":{"datum":250,"type":"quantitative"},"y":{"datum":112.1,"type":"quantitative"}}},
{"data":{"values":[{"label":"P"}]},"mark":{"type":"text","align":"left","baseline":"middle","fontSize":14,"fontStyle":"italic","dx":2},"encoding":{"text":{"field":"label"},"x":{"datum":250,"type":"quantitative"},"y":{"datum":112.1,"type":"quantitative"}}},
{"data":{"values":[{"label":"= 0.012"}]},"mark":{"type":"text","align":"left","baseline":"middle","fontSize":14,"dx":15},"encoding":{"text":{"field":"label"},"x":{"datum":250,"type":"quantitative"},"y":{"datum":112.1,"type":"quantitative"}}},
{"data":{"values":[{"label":"f"}]},"mark":{"type":"text","align":"left","baseline":"alphabetic","fontSize":24,"fontWeight":"normal"},"encoding":{"text":{"field":"label"},"x":{"datum":-122.8,"type":"quantitative"},"y":{"datum":115.8,"type":"quantitative"}}}
]}
],
"config": {
"font": "Liberation Sans",
"background": "white",
"view": {"stroke": null},
"axis": {"grid": false, "labelOverlap": false, "labelFlush": false, "domainColor": "black", "domainWidth": 1.5, "tickColor": "black", "tickWidth": 1.5, "tickSize": 4, "labelFont": "Liberation Sans", "labelFontSize": 12, "labelFontWeight": "bold", "labelColor": "black", "titleFont": "Liberation Sans", "titleFontSize": 14, "titleFontWeight": "bold", "titleColor": "black"},
"axisX": {"labelPadding": 2, "titlePadding": 4},
"axisY": {"labelPadding": 1, "titlePadding": 5},
"legend": {"labelFont": "Liberation Sans", "labelFontSize": 12.5, "labelFontWeight": "bold", "labelColor": "black", "symbolType": "M-1,0H1M0,-0.4V0.4", "symbolSize": 144, "symbolStrokeWidth": 1.5, "rowPadding": 4, "labelOffset": 4, "padding": 0, "labelLimit": 300},
"text": {"font": "Liberation Sans", "fontSize": 12.5, "fontWeight": "bold", "color": "black"}
}
}
